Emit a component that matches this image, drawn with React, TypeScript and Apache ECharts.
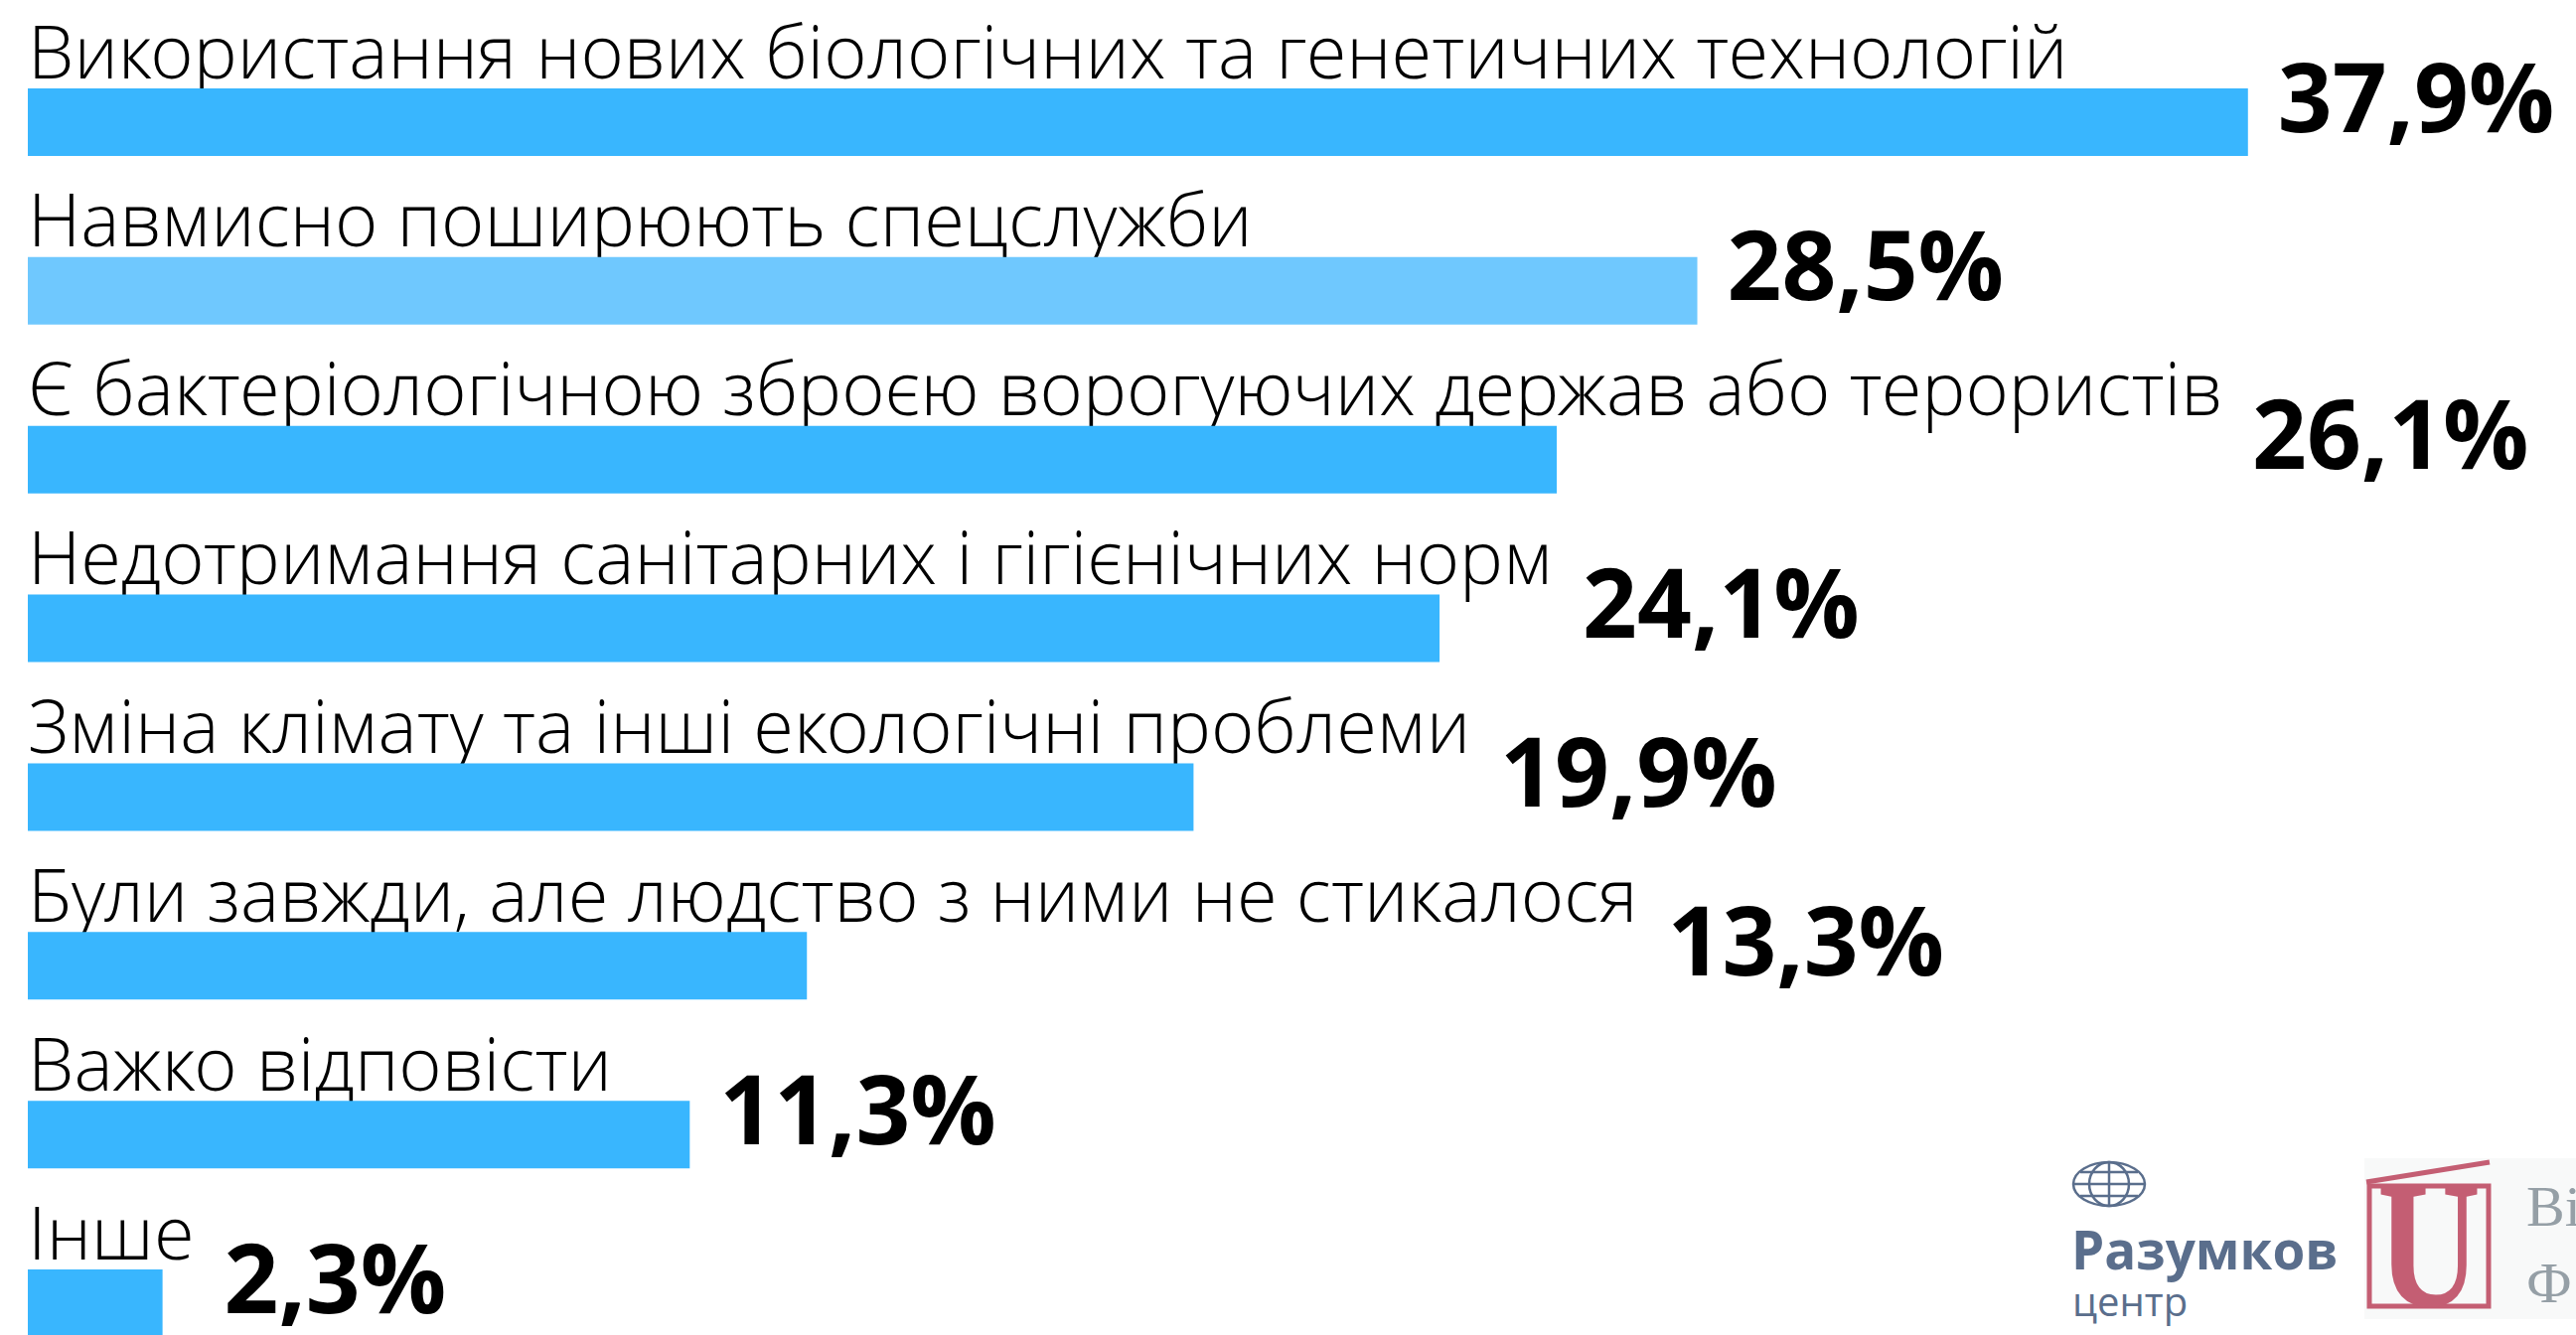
import React, { useEffect, useRef } from "react";
import * as echarts from "echarts";

const categories = [
  "Використання нових біологічних та генетичних технологій",
  "Навмисно поширюють спецслужби",
  "Є бактеріологічною зброєю ворогуючих держав або терористів",
  "Недотримання санітарних і гігієнічних норм",
  "Зміна клімату та інші екологічні проблеми",
  "Були завжди, але людство з ними не стикалося",
  "Важко відповісти",
  "Інше",
];
const values = [37.9, 28.5, 26.1, 24.1, 19.9, 13.3, 11.3, 2.3];
const barColors = ["#39b6fe", "#6fc8fe", "#39b6fe", "#39b6fe", "#39b6fe", "#39b6fe", "#39b6fe", "#39b6fe"];
const valueLabels = values.map((v) => v.toFixed(1).replace(".", ",") + "%");

const W = 2593;
const H = 1344;
const GRID_LEFT = 28;
const CAT_FONT = 74;
const CAT_FAMILY = '"Open Sans Light", "Open Sans"';
const CAT_WEIGHT = 400;
const CAT_MARGIN = 0;
const VAL_FONT = 96;
const GAP = 30;

function measure(text: string, font: string): number {
  const c = document.createElement("canvas");
  const ctx = c.getContext("2d");
  if (!ctx) return 0;
  ctx.font = font;
  return ctx.measureText(text).width;
}

function buildOption(offsets: number[][] | null) {
  const data = values.map((v, i) => ({
    value: v,
    itemStyle: { color: barColors[i] },
    label: offsets ? { offset: offsets[i] } : undefined,
  }));
  const logoBlue = "#5a6e8c";
  const red = "#c45e73";
  return {
    animation: false,
    backgroundColor: "#ffffff",
    grid: { left: GRID_LEFT, right: 0, top: 123, bottom: 32, containLabel: false },
    xAxis: { type: "value", min: 0, max: 43.5, show: false },
    yAxis: {
      type: "category",
      inverse: true,
      boundaryGap: false,
      data: categories,
      axisLine: { show: false },
      axisTick: { show: false },
      splitLine: { show: false },
      axisLabel: {
        inside: true,
        interval: 0,
        margin: CAT_MARGIN,
        align: "left",
        verticalAlign: "bottom",
        padding: [0, 0, 43, 0],
        lineHeight: 60,
        fontSize: CAT_FONT,
        fontFamily: CAT_FAMILY,
        fontWeight: CAT_WEIGHT,
        color: "#000000",
      },
    },
    series: [
      {
        type: "bar",
        data,
        barWidth: 68,
        clip: false,
        z: 1,
        label: {
          show: true,
          position: "right",
          distance: 0,
          formatter: (p: any) => valueLabels[p.dataIndex],
          fontSize: VAL_FONT,
          fontWeight: 700,
          fontFamily: '"Open Sans"',
          color: "#000000",
        },
      },
    ],
    graphic: [
      {
        type: "group",
        children: [
          { type: "ellipse", shape: { cx: 2123, cy: 1192, rx: 36, ry: 22 }, style: { fill: "none", stroke: logoBlue, lineWidth: 2.5 } },
          { type: "ellipse", shape: { cx: 2123, cy: 1192, rx: 20, ry: 22 }, style: { fill: "none", stroke: logoBlue, lineWidth: 2.5 } },
          { type: "line", shape: { x1: 2123, y1: 1170, x2: 2123, y2: 1214 }, style: { stroke: logoBlue, lineWidth: 2.5 } },
          { type: "line", shape: { x1: 2087, y1: 1192, x2: 2159, y2: 1192 }, style: { stroke: logoBlue, lineWidth: 2.5 } },
          { type: "line", shape: { x1: 2094, y1: 1180, x2: 2152, y2: 1180 }, style: { stroke: logoBlue, lineWidth: 2.5 } },
          { type: "line", shape: { x1: 2094, y1: 1204, x2: 2152, y2: 1204 }, style: { stroke: logoBlue, lineWidth: 2.5 } },
          {
            type: "text",
            x: 2085,
            y: 1257,
            style: { text: "Разумков", fill: logoBlue, font: '700 53px "Open Sans"', verticalAlign: "middle", align: "left" },
          },
          {
            type: "text",
            x: 2086,
            y: 1309,
            style: { text: "центр", fill: logoBlue, font: '400 40px "Open Sans"', verticalAlign: "middle", align: "left" },
          },
        ],
      },
      {
        type: "group",
        children: [
          { type: "rect", shape: { x: 2380, y: 1166, width: 213, height: 162 }, style: { fill: "#f8f9f9" } },
          { type: "rect", shape: { x: 2385, y: 1194, width: 120, height: 121 }, style: { fill: "none", stroke: red, lineWidth: 5 } },
          { type: "line", shape: { x1: 2382, y1: 1190, x2: 2506, y2: 1170 }, style: { stroke: red, lineWidth: 5 } },
          {
            type: "text",
            x: 2445,
            y: 1253,
            scaleX: 0.8,
            style: { text: "U", fill: red, font: '700 180px "Liberation Serif"', align: "center", verticalAlign: "middle" },
          },
          {
            type: "text",
            x: 2543,
            y: 1214,
            style: { text: "Ві", fill: "#959fa6", font: '400 58px "Liberation Serif"', align: "left", verticalAlign: "middle" },
          },
          {
            type: "text",
            x: 2543,
            y: 1291,
            style: { text: "Ф", fill: "#959fa6", font: '400 58px "Liberation Serif"', align: "left", verticalAlign: "middle" },
          },
        ],
      },
    ],
  };
}

export default function App() {
  const ref = useRef<HTMLDivElement>(null);
  useEffect(() => {
    document.body.style.margin = "0";
    if (!ref.current) return;
    const chart = echarts.init(ref.current, undefined, { renderer: "svg" });
    chart.setOption(buildOption(null));
    const catFont = `${CAT_WEIGHT} ${CAT_FONT}px ${CAT_FAMILY}`;
    const offsets = values.map((v, i) => {
      const end = chart.convertToPixel({ gridIndex: 0 }, [v, i]) as number[];
      const barEnd = end[0];
      const textEnd = GRID_LEFT + CAT_MARGIN + measure(categories[i], catFont);
      const dx = Math.max(0, textEnd - barEnd) + GAP;
      return [dx, -28];
    });
    chart.setOption(buildOption(offsets));
    return () => chart.dispose();
  }, []);
  return <div ref={ref} style={{ width: W, height: H }} />;
}
